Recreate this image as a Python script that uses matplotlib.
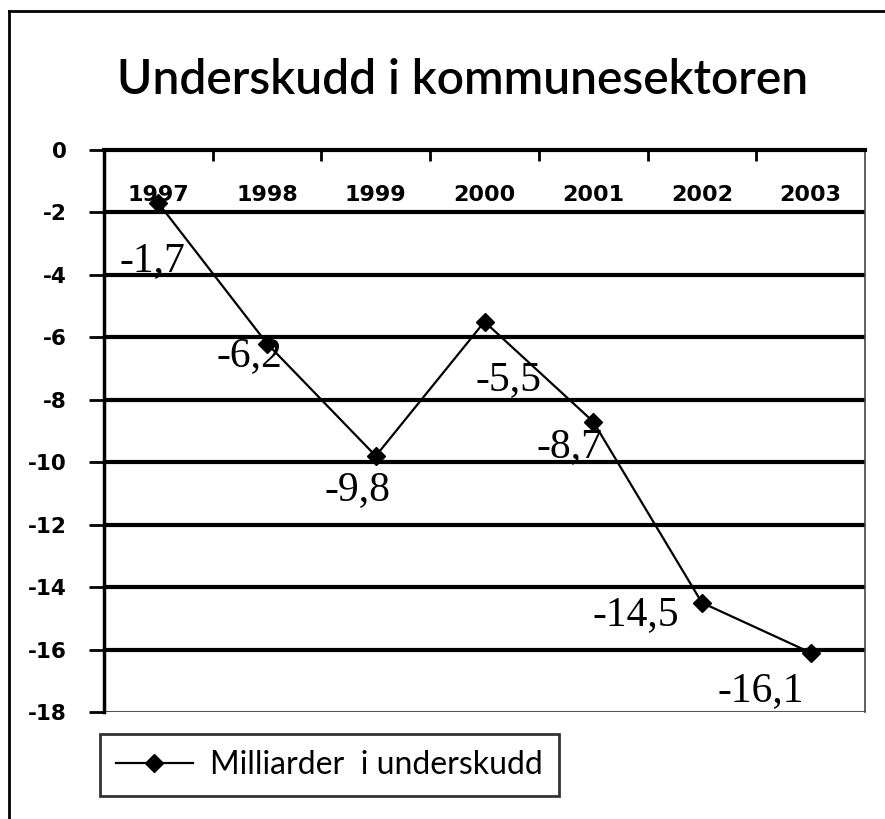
import matplotlib.pyplot as plt
from matplotlib.lines import Line2D
from matplotlib.transforms import blended_transform_factory

years = ["1997", "1998", "1999", "2000", "2001", "2002", "2003"]
deficit = [-1.7, -6.2, -9.8, -5.5, -8.7, -14.5, -16.1]
value_labels = ["-1,7", "-6,2", "-9,8", "-5,5", "-8,7", "-14,5", "-16,1"]
y_ticks = [0, -2, -4, -6, -8, -10, -12, -14, -16, -18]

# label offsets in pixels (dx, dy) relative to each point
label_offsets = [(-6, -58), (-18, -12), (-18, -34), (24, -58), (-24, -25), (-66, -12), (-50, -38)]

fig = plt.figure(figsize=(8.85, 8.19), dpi=100)
ax = fig.add_axes([104 / 885, 1 - 712 / 819, 761 / 885, 562 / 819])

x = list(range(len(years)))

# grid lines
for v in y_ticks[1:-1]:
    ax.axhline(v, color="black", lw=3, zorder=1)
ax.axhline(-18, color="#555555", lw=1.5, zorder=1)

ax.plot(x, deficit, color="black", lw=1.6, marker="D", markersize=9, zorder=3)

for xi, v, lab, (dx, dy) in zip(x, deficit, value_labels, label_offsets):
    ax.annotate(lab, (xi, v), xytext=(dx * 0.72, dy * 0.72), textcoords="offset points",
                ha="center", va="center", fontsize=30, family="Liberation Serif")

trans = blended_transform_factory(ax.transData, ax.transData)
for xi, yr in zip(x, years):
    ax.text(xi, -1.45, yr, ha="center", va="center", fontsize=16,
            fontweight="bold", family="DejaVu Sans", transform=trans)

ax.set_xlim(-0.5, len(years) - 0.5)
ax.set_ylim(-18, 0)
ax.set_yticks(y_ticks)
ax.set_yticklabels([str(v) for v in y_ticks], fontsize=15.5, fontweight="bold",
                   family="DejaVu Sans")
ax.tick_params(axis="y", length=11, width=2, pad=16, color="black")

ax.set_xticks([i + 0.5 for i in range(len(years) - 1)])
ax.set_xticklabels([])
ax.tick_params(axis="x", top=True, bottom=False, direction="in", length=8, width=2)

ax.spines["top"].set_linewidth(3)
ax.spines["left"].set_linewidth(2.5)
ax.spines["right"].set_linewidth(1.2)
ax.spines["right"].set_color("#444444")
ax.spines["bottom"].set_visible(False)

fig.text(463 / 885, 1 - 80 / 819, "Underskudd i kommunesektoren", ha="center",
         va="center", fontsize=34.5, family="Lato", fontweight="semibold")

handle = Line2D([], [], color="black", lw=1.6, marker="D", markersize=9)
leg = fig.legend([handle], ["Milliarder  i underskudd"], loc="lower left",
                 bbox_to_anchor=(100 / 885, 1 - 796 / 819), frameon=True,
                 fancybox=False, prop={"family": "Lato", "size": 23},
                 handlelength=2.4, borderpad=0.5, handletextpad=0.55,
                 borderaxespad=0)
leg.get_frame().set_edgecolor("black")
leg.get_frame().set_linewidth(2)

# outer frame (left and top edges)
fig.add_artist(Line2D([9 / 885, 9 / 885], [0, 1 - 11 / 819], color="black", lw=2,
                      transform=fig.transFigure))
fig.add_artist(Line2D([9 / 885, 1], [1 - 11 / 819, 1 - 11 / 819], color="black", lw=2,
                      transform=fig.transFigure))

fig.savefig("out.png", dpi=100)
